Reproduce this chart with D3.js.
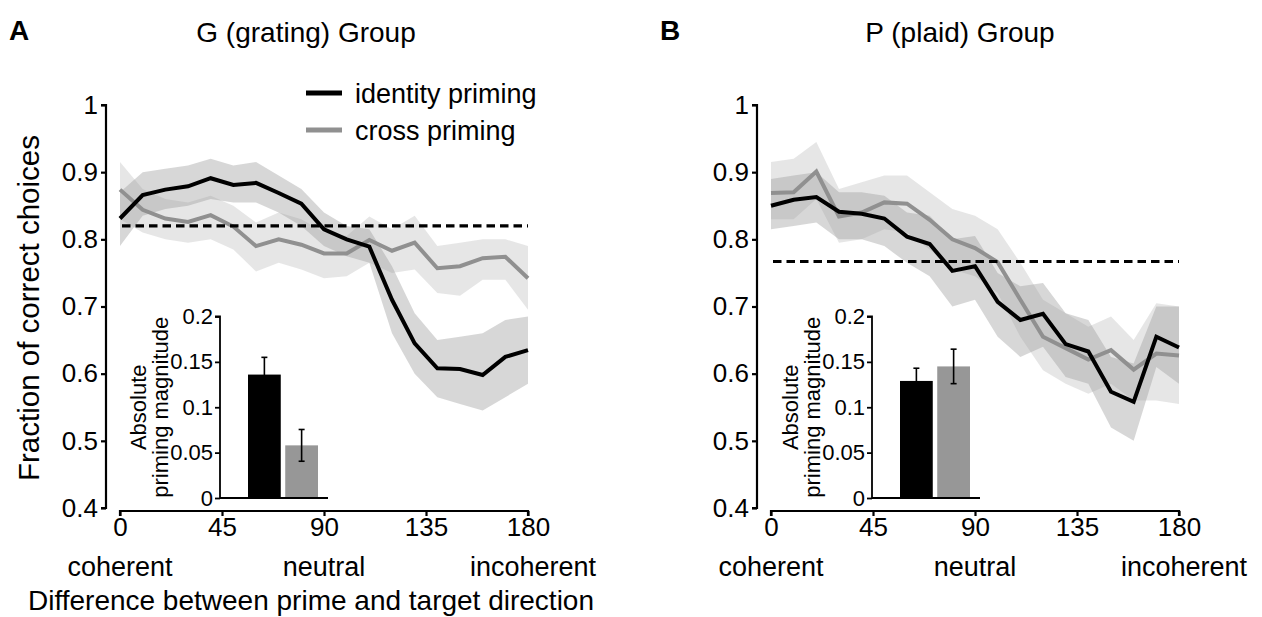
<!DOCTYPE html>
<html>
<head>
<meta charset="utf-8">
<script src="https://cdn.jsdelivr.net/npm/d3@7"></script>
<style>
  html, body { margin: 0; padding: 0; background: #fff; }
  svg { display: block; font-family: "Liberation Sans", Arial, sans-serif; }
</style>
</head>
<body>
<svg id="chart" width="1262" height="617"></svg>
<script>
// ---------------- DATA ----------------
const angles = [0,10,20,30,40,50,60,70,80,90,100,110,120,130,140,150,160,170,180];

// G (grating) group
const gIdentity   = [0.831,0.866,0.874,0.879,0.891,0.881,0.884,0.869,0.853,0.815,0.800,0.789,0.710,0.645,0.608,0.607,0.598,0.625,0.635];
const gIdentityHi = [0.870,0.900,0.905,0.910,0.920,0.910,0.915,0.895,0.875,0.840,0.820,0.815,0.760,0.690,0.650,0.655,0.660,0.680,0.685];
const gIdentityLo = [0.790,0.835,0.845,0.850,0.860,0.855,0.855,0.840,0.820,0.790,0.775,0.765,0.660,0.600,0.565,0.555,0.545,0.565,0.585];
const gCross      = [0.874,0.844,0.831,0.826,0.836,0.819,0.790,0.800,0.792,0.779,0.779,0.799,0.783,0.795,0.757,0.760,0.772,0.774,0.742];
const gCrossHi    = [0.915,0.875,0.860,0.855,0.865,0.850,0.825,0.840,0.830,0.810,0.805,0.834,0.815,0.835,0.790,0.795,0.800,0.800,0.790];
const gCrossLo    = [0.830,0.810,0.800,0.795,0.800,0.785,0.752,0.765,0.755,0.742,0.745,0.765,0.750,0.755,0.720,0.716,0.740,0.740,0.695];
const gChance = 0.82;

// P (plaid) group
const pIdentity   = [0.850,0.859,0.863,0.841,0.838,0.831,0.804,0.793,0.753,0.760,0.707,0.680,0.689,0.644,0.633,0.573,0.558,0.655,0.639];
const pIdentityHi = [0.890,0.895,0.900,0.870,0.870,0.865,0.840,0.835,0.800,0.805,0.750,0.730,0.735,0.690,0.680,0.625,0.615,0.700,0.700];
const pIdentityLo = [0.815,0.820,0.825,0.800,0.800,0.790,0.765,0.745,0.700,0.710,0.655,0.625,0.640,0.595,0.585,0.520,0.500,0.610,0.585];
const pCross      = [0.869,0.870,0.901,0.834,0.840,0.855,0.853,0.829,0.800,0.787,0.766,0.710,0.655,0.638,0.621,0.635,0.606,0.630,0.627];
const pCrossHi    = [0.915,0.920,0.945,0.875,0.885,0.895,0.895,0.870,0.845,0.835,0.815,0.765,0.710,0.690,0.670,0.685,0.650,0.705,0.700];
const pCrossLo    = [0.830,0.830,0.860,0.795,0.800,0.815,0.810,0.785,0.755,0.745,0.720,0.655,0.605,0.585,0.570,0.585,0.560,0.560,0.555];
const pChance = 0.767;

// insets: absolute priming magnitude
const insetCategories = ["identity priming", "cross priming"];
const gInsetMean = [0.136, 0.058];
const gInsetErr  = [0.019, 0.0175];
const pInsetMean = [0.129, 0.145];
const pInsetErr  = [0.014, 0.019];

// ticks / labels
const xTicks = [0, 45, 90, 135, 180];
const yTicks = [0.4, 0.5, 0.6, 0.7, 0.8, 0.9, 1];
const yTickLabels = ["0.4", "0.5", "0.6", "0.7", "0.8", "0.9", "1"];
const insetTicks = [0, 0.05, 0.1, 0.15, 0.2];
const insetTickLabels = ["0", "0.05", "0.1", "0.15", "0.2"];
const xCategoryLabels = ["coherent", "neutral", "incoherent"];
const xCategoryAt = [0, 90, 180];
const panelTitles = ["G (grating) Group", "P (plaid) Group"];
const panelLetters = ["A", "B"];
const legendLabels = ["identity priming", "cross priming"];

// ---------------- STYLE ----------------
const BLACK = "#000";
const GRAY = "#909090";
const BAR_GRAY = "#979797";
const FONT = "Liberation Sans, Arial, sans-serif";

const svg = d3.select("#chart");

function drawPanel(opt) {
  const g = svg.append("g");
  const x = d3.scaleLinear().domain([0, 180]).range([opt.x0, opt.x0 + 408]);
  const y = d3.scaleLinear().domain([0.4, 1]).range([508, 105]);

  // bands
  const area = d3.area().x((d, i) => x(angles[i])).y0(d => y(d[0])).y1(d => y(d[1]));
  const crossBand = opt.crossLo.map((v, i) => [v, opt.crossHi[i]]);
  const idBand = opt.idLo.map((v, i) => [v, opt.idHi[i]]);
  g.append("path").attr("d", area(crossBand)).attr("fill", "#bdbdbd").attr("fill-opacity", 0.38);
  g.append("path").attr("d", area(idBand)).attr("fill", "#9a9a9a").attr("fill-opacity", 0.40);

  // lines
  const line = d3.line().x((d, i) => x(angles[i])).y(d => y(d));
  g.append("path").attr("d", line(opt.cross)).attr("fill", "none")
    .attr("stroke", GRAY).attr("stroke-width", 4).attr("stroke-linejoin", "miter");
  g.append("path").attr("d", line(opt.id)).attr("fill", "none")
    .attr("stroke", BLACK).attr("stroke-width", 4).attr("stroke-linejoin", "miter");

  // chance dashed line
  g.append("line").attr("x1", x(0) + 2).attr("x2", x(180)).attr("y1", y(opt.chance)).attr("y2", y(opt.chance))
    .attr("stroke", BLACK).attr("stroke-width", 3.2).attr("stroke-dasharray", "8.5,5");

  // y axis
  const yAxis = d3.axisLeft(y).tickValues(yTicks).tickFormat((d, i) => yTickLabels[i]).tickSize(5).tickPadding(3);
  const ya = g.append("g").attr("transform", `translate(${opt.x0 - 14},0)`).call(yAxis);
  ya.select(".domain").attr("d", `M-5,${y(1)}H0V${y(0.4)}H-5`).attr("stroke-width", 2.2);
  ya.selectAll(".tick line").attr("stroke-width", 2.2);
  ya.selectAll(".tick text").attr("font-size", 26).attr("font-family", FONT).attr("fill", "#000");

  // x axis
  const xAxis = d3.axisBottom(x).tickValues(xTicks).tickSize(5).tickPadding(2);
  const xa = g.append("g").attr("transform", `translate(0,511)`).call(xAxis);
  xa.select(".domain").attr("d", `M${x(0)},5V0H${x(180)}V5`).attr("stroke-width", 2.2);
  xa.selectAll(".tick line").attr("stroke-width", 2.2);
  xa.selectAll(".tick text").attr("font-size", 26).attr("font-family", FONT).attr("fill", "#000");

  // category labels
  g.selectAll("text.cat").data(xCategoryLabels).enter().append("text").attr("class", "cat")
    .attr("x", (d, i) => x(xCategoryAt[i]) + (i === 2 ? 5 : 0))
    .attr("y", 576).attr("text-anchor", "middle").attr("font-size", 27).text(d => d);

  // title + letter
  g.append("text").attr("x", opt.titleX).attr("y", 42).attr("text-anchor", "middle")
    .attr("font-size", 28).text(opt.title);
  g.append("text").attr("x", opt.letterX).attr("y", 40).attr("font-size", 28).attr("font-weight", "bold").text(opt.letter);

  // inset
  const ix0 = opt.insetX;
  const iy = d3.scaleLinear().domain([0, 0.2]).range([498, 316.5]);
  const ib = d3.scaleBand().domain(insetCategories).range([ix0 + 28, ix0 + 98]).paddingInner(0.12).paddingOuter(0);
  const ig = g.append("g");
  ig.selectAll("rect").data(opt.insetMean).enter().append("rect")
    .attr("x", (d, i) => ib(insetCategories[i])).attr("width", ib.bandwidth())
    .attr("y", d => iy(d)).attr("height", d => iy(0) - iy(d))
    .attr("fill", (d, i) => i === 0 ? BLACK : BAR_GRAY);
  opt.insetMean.forEach((m, i) => {
    const cx = ib(insetCategories[i]) + ib.bandwidth() / 2;
    const e = opt.insetErr[i];
    ig.append("line").attr("x1", cx).attr("x2", cx).attr("y1", iy(m + e)).attr("y2", iy(m - e))
      .attr("stroke", BLACK).attr("stroke-width", 1.6);
    [m + e, m - e].forEach(v => {
      ig.append("line").attr("x1", cx - 3).attr("x2", cx + 3).attr("y1", iy(v)).attr("y2", iy(v))
        .attr("stroke", BLACK).attr("stroke-width", 1.6);
    });
  });
  const iAxis = d3.axisLeft(iy).tickValues(insetTicks).tickFormat((d, i) => insetTickLabels[i]).tickSize(5).tickPadding(2);
  const ia = ig.append("g").attr("transform", `translate(${ix0},0)`).call(iAxis);
  ia.select(".domain").attr("d", `M-5,${iy(0.2)}H0V${iy(0)}`).attr("stroke-width", 1.8);
  ia.selectAll(".tick line").attr("stroke-width", 1.8);
  ia.selectAll(".tick text").attr("font-size", 22).attr("font-family", FONT).attr("fill", "#000");
  ig.append("line").attr("x1", ix0).attr("x2", ix0 + 108).attr("y1", iy(0)).attr("y2", iy(0))
    .attr("stroke", BLACK).attr("stroke-width", 1.8);
  const labY = (iy(0) + iy(0.2)) / 2;
  ig.append("text").attr("transform", `translate(${ix0 - 74},${labY}) rotate(-90)`)
    .attr("text-anchor", "middle").attr("font-size", 22).text("Absolute");
  ig.append("text").attr("transform", `translate(${ix0 - 52},${labY}) rotate(-90)`)
    .attr("text-anchor", "middle").attr("font-size", 22).text("priming magnitude");
  return { x, y };
}

const pa = drawPanel({
  x0: 120, title: panelTitles[0], titleX: 306, letter: panelLetters[0], letterX: 9,
  id: gIdentity, idHi: gIdentityHi, idLo: gIdentityLo,
  cross: gCross, crossHi: gCrossHi, crossLo: gCrossLo, chance: gChance,
  insetX: 220, insetMean: gInsetMean, insetErr: gInsetErr
});
const pb = drawPanel({
  x0: 771, title: panelTitles[1], titleX: 960, letter: panelLetters[1], letterX: 660,
  id: pIdentity, idHi: pIdentityHi, idLo: pIdentityLo,
  cross: pCross, crossHi: pCrossHi, crossLo: pCrossLo, chance: pChance,
  insetX: 872, insetMean: pInsetMean, insetErr: pInsetErr
});

// y axis label (panel A)
svg.append("text").attr("transform", `translate(39,308) rotate(-90)`).attr("text-anchor", "middle")
  .attr("font-size", 29.5).text("Fraction of correct choices");

// x axis caption
svg.append("text").attr("x", 311).attr("y", 610).attr("text-anchor", "middle")
  .attr("font-size", 28).text("Difference between prime and target direction");

// legend
const legColors = [BLACK, GRAY];
const leg = svg.append("g");
legendLabels.forEach((lab, i) => {
  const ly = 93 + i * 37;
  leg.append("line").attr("x1", 306).attr("x2", 342).attr("y1", ly).attr("y2", ly)
    .attr("stroke", legColors[i]).attr("stroke-width", 5);
  leg.append("text").attr("x", 355).attr("y", ly + 9.5).attr("font-size", 27).text(lab);
});
</script>
</body>
</html>
